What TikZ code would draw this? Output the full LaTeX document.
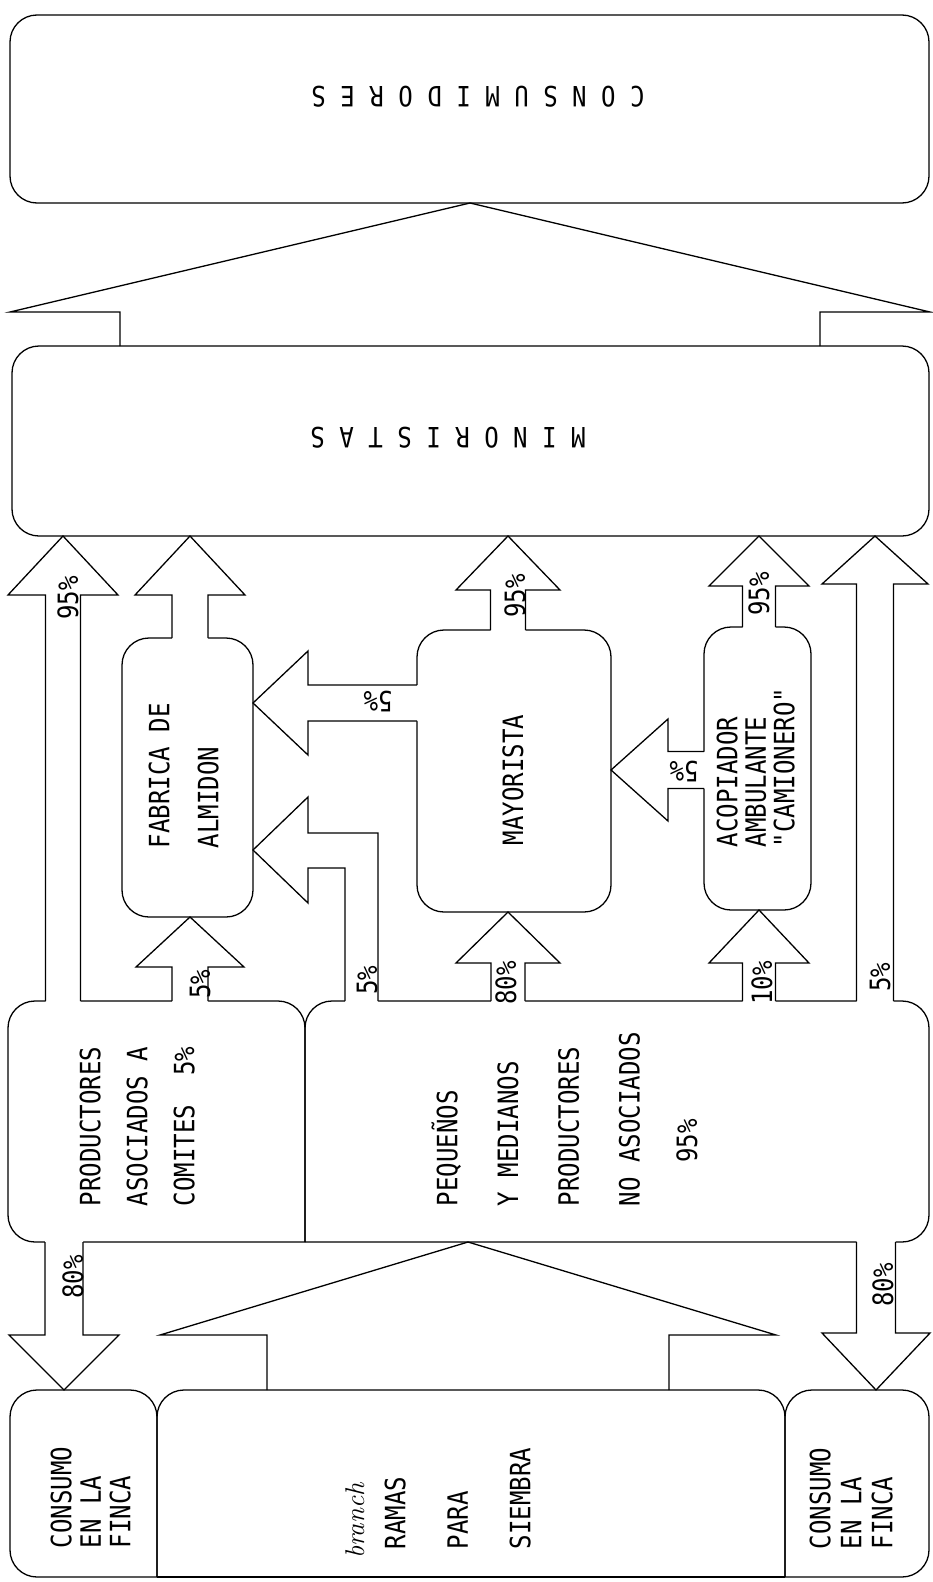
\documentclass[tikz,border=0pt]{standalone}
\usepackage{fontspec}
\newfontfamily\maquina[FakeStretch=0.86]{DejaVu Sans Mono}
\usetikzlibrary{calc}

% flecha de bloque vertical: x, origen, destino, medio tronco, media punta, largo punta, relleno
\newcommand{\flechaV}[7]{%
  \coordinate (fb) at (#1,0 |- #2);
  \coordinate (ft) at (#1,0 |- #3);
  \path[fill=#7] ($(fb)+(-#4,#6/20)$) -- ($(ft)+(-#4,#6)$) -- ($(ft)+(-#5,#6)$) -- (ft)
    -- ($(ft)+(#5,#6)$) -- ($(ft)+(#4,#6)$) -- ($(fb)+(#4,#6/20)$) -- cycle;
  \draw ($(fb)+(-#4,0)$) -- ($(ft)+(-#4,#6)$) -- ($(ft)+(-#5,#6)$) -- (ft)
    -- ($(ft)+(#5,#6)$) -- ($(ft)+(#4,#6)$) -- ($(fb)+(#4,0)$);
}
% flecha de bloque horizontal: y, origen, destino, medio tronco, media punta, largo punta, relleno
\newcommand{\flechaH}[7]{%
  \coordinate (fb) at (#2 |- 0,#1);
  \coordinate (ft) at (#3 |- 0,#1);
  \path[fill=#7] ($(fb)+(#6/20,-#4)$) -- ($(ft)+(#6,-#4)$) -- ($(ft)+(#6,-#5)$) -- (ft)
    -- ($(ft)+(#6,#5)$) -- ($(ft)+(#6,#4)$) -- ($(fb)+(#6/20,#4)$) -- cycle;
  \draw ($(fb)+(0,-#4)$) -- ($(ft)+(#6,-#4)$) -- ($(ft)+(#6,-#5)$) -- (ft)
    -- ($(ft)+(#6,#5)$) -- ($(ft)+(#6,#4)$) -- ($(fb)+(0,#4)$);
}

\begin{document}
\begin{tikzpicture}[x=1pt, y=-1pt, line width=1.3pt,
    caja/.style={draw, rounded corners=27pt, inner sep=0pt, outer sep=0pt},
    zona/.style={inner sep=0pt, outer sep=0pt},
    esq/.style={rounded corners=27pt},
    texto/.style={inner sep=0pt, align=left, rotate=90, anchor=north west,
      font=\maquina\fontsize{28}{#1}\selectfont},
    pct/.style={inner sep=0pt, rotate=90, font=\maquina\fontsize{28}{30}\selectfont}]
  \useasboundingbox (0,0) rectangle (932,1582);

  % Cajas
  \node[caja, minimum width=919pt, minimum height=188pt] (cons) at (469.5,109) {};
  \node[caja, minimum width=917pt, minimum height=190pt] (mino) at (470.5,441) {};
  \node[caja, minimum width=131pt, minimum height=279pt] (fab) at (187.5,777.5) {};
  \node[caja, minimum width=194pt, minimum height=282pt] (may) at (514,771) {};
  \node[caja, minimum width=107pt, minimum height=283pt] (acop) at (757.5,768.5) {};
  \node[zona, minimum width=297pt, minimum height=241pt] (prod) at (156.5,1121.5) {};
  \node[zona, minimum width=624pt, minimum height=241pt] (peq) at (617,1121.5) {};
  \node[zona, minimum width=147pt, minimum height=187pt] (consL) at (83.5,1483.5) {};
  \node[zona, minimum width=628pt, minimum height=187pt] (ramas) at (471,1483.5) {};
  \node[zona, minimum width=144pt, minimum height=187pt] (consR) at (857,1483.5) {};

  % Productores
  \draw[esq] (prod.south east) -- (prod.north east) -- (prod.north west) -- (prod.south west) -- (prod.south east);
  \draw[esq] (peq.south west) -- (peq.north west) -- (peq.north east) -- (peq.south east) -- (peq.south west);
  % Abajo
  \draw[esq] (consL.south east) -- (consL.north east) -- (consL.north west) -- (consL.south west) -- (consL.south east);
  \draw[esq] (ramas.south west) -- (ramas.north west) -- (ramas.north east) -- (ramas.south east);
  \draw (ramas.south west) -- (ramas.south east);
  \draw[esq] (consR.south west) -- (consR.north west) -- (consR.north east) -- (consR.south east) -- (consR.south west);

  % Flechas grandes
  \flechaV{470}{mino.north}{cons.south}{350}{460}{109}{none}
  \flechaV{468}{ramas.north}{peq.south}{201}{308}{93}{none}
  % Hacia minoristas
  \flechaV{63}{prod.north}{mino.south}{17.5}{55}{59}{white}
  \flechaV{190}{fab.north}{mino.south}{18}{55}{59}{white}
  \flechaV{508}{may.north}{mino.south}{17.5}{52}{54}{white}
  \flechaV{759}{acop.north}{mino.south}{16.5}{50}{50}{white}
  \flechaV{875}{peq.north}{mino.south}{18.5}{53}{48}{white}
  % Desde productores
  \flechaV{190}{prod.north}{fab.south}{18}{54}{50}{white}
  \flechaV{508}{peq.north}{may.south}{17}{52}{51}{white}
  \flechaV{759}{peq.north}{acop.south}{16.5}{50}{53}{white}
  \flechaV{64}{prod.south}{consL.north}{19}{55}{-55}{white}
  \flechaV{876}{peq.south}{consR.north}{19.5}{54}{-57}{white}
  % Horizontales
  \flechaH{703}{may.west}{fab.east}{18}{52}{55}{white}
  \flechaH{770}{acop.west}{may.east}{18.5}{51}{57}{white}
  % Pequenos -> fabrica (en L)
  \coordinate (q1) at (fab.east |- 0,850);
  \fill[white] ($(345,0 |- peq.north)+(0,3)$) -- (345,868) -- (308,868) -- (308,903) -- (q1)
    -- (308,797) -- (308,833) -- (378,833) -- ($(378,0 |- peq.north)+(0,3)$) -- cycle;
  \draw (345,0 |- peq.north) -- (345,868) -- (308,868) -- (308,903) -- (q1)
    -- (308,797) -- (308,833) -- (378,833) -- (378,0 |- peq.north);

  % Textos
  \node[zona, rotate=180, font=\maquina\fontsize{28}{30}\selectfont] (tcons) at (478,97) {C O N S U M I D O R E S};
  \node[zona, rotate=180, font=\maquina\fontsize{28}{30}\selectfont] (tmino) at (448,438) {M I N O R I S T A S};
  \node[texto=49] (tfab) at (148,849) {FABRICA DE\\ALMIDON};
  \node[pct] (tmay) at (513,780) {MAYORISTA};
  \node[texto=28.5] (tacop) at (716,848) {ACOPIADOR\\AMBULANTE\\"CAMIONERO"};
  \node[texto=47] (tprod) at (79,1207) {PRODUCTORES\\ASOCIADOS A\\COMITES~~5\%};
  \node[texto=60.7] (tpeq) at (431,1207) {PEQUE\~NOS\\Y MEDIANOS\\PRODUCTORES\\NO ASOCIADOS};
  \node[pct] (tpeq2) at (687,1141) {95\%};
  \node[texto=29.5] (tconsL) at (50,1549) {CONSUMO\\EN LA\\FINCA};
  \node[texto=31] (tconsR) at (809,1550) {CONSUMO\\EN LA\\FINCA};
  \node[zona, rotate=90, font=\fontsize{27}{29}\selectfont\itshape] (tbranch) at (355,1521) {branch};
  \node[texto=62.5] (tramas) at (384,1550) {RAMAS\\PARA\\SIEMBRA};

  % Porcentajes
  \node[pct] (p1) at (68,598) {95\%};
  \node[pct] (p2) at (515,596) {95\%};
  \node[pct] (p3) at (759,594) {95\%};
  \node[pct] (p4) at (880,977) {5\%};
  \node[pct] (p5) at (762,983) {10\%};
  \node[pct] (p6) at (506,983) {80\%};
  \node[pct] (p7) at (367,980) {5\%};
  \node[pct] (p8) at (200,984) {5\%};
  \node[pct, rotate=90] (p9) at (378,701) {5\%};
  \node[pct, rotate=90] (p10) at (684,771) {5\%};
  \node[pct] (p11) at (73,1277) {80\%};
  \node[pct] (p12) at (883,1285) {80\%};
\end{tikzpicture}
\end{document}
